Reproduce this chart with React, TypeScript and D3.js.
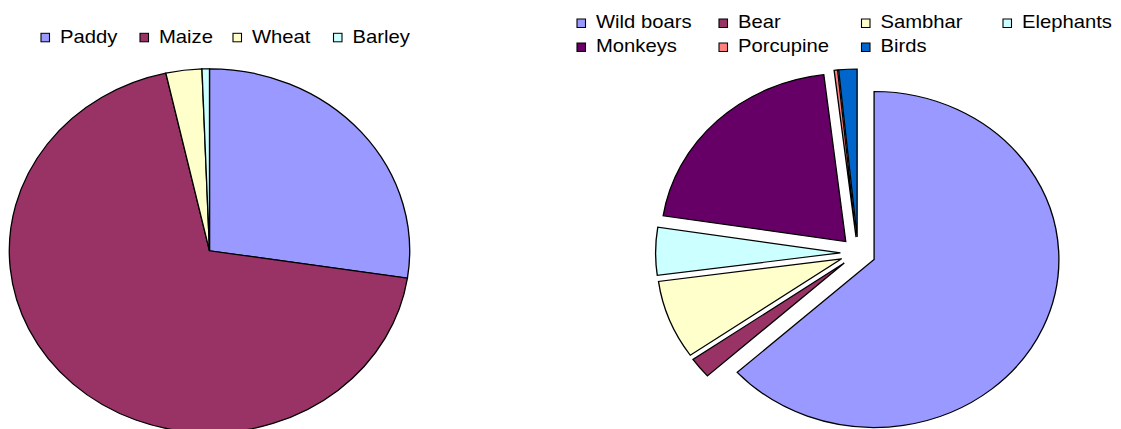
import React from 'react';
import * as d3 from 'd3';

// ---- data ----
const cropLabels = ['Paddy', 'Maize', 'Wheat', 'Barley'];
const cropValues = [27.4, 69.1, 2.9, 0.6];
const cropColors = ['#9999FF', '#993366', '#FFFFCC', '#CCFFFF'];

const animalLabels = ['Wild boars', 'Bear', 'Sambhar', 'Elephants', 'Monkeys', 'Porcupine', 'Birds'];
const animalValues = [63.4, 2.0, 7.6, 4.6, 20.7, 0.3, 1.6];
const animalColors = ['#9999FF', '#993366', '#FFFFCC', '#CCFFFF', '#660066', '#FF8080', '#0066CC'];

// ---- layout ----
const W = 1121;
const H = 429;
const SX = 1.1; // horizontal stretch of the whole drawing
const FONT = '"Liberation Sans", Arial, Helvetica, sans-serif';
const FONT_SIZE = 18.4;

const LEFT = { cx: 209.5 / SX, cy: 250.8, r: 182 };
const RIGHT = { cx: 780, cy: 253, r: 168, explode: 16 };

const leftLegendX = [41.5, 140.5, 233.5, 334];
const leftLegendBaseline = 42.8;
const rightLegendX = [577.5, 719.5, 862, 1003.5];
const rightLegendBaselines = [28.5, 52.5];
const SQ_W = 8.5; // screen px
const SQ_H = 8.5;
const TEXT_DX = 18.5; // screen px from square left

export default function App() {
  const pie = d3.pie<number>().sort(null).value((d) => d);

  const leftArcs = pie(cropValues);
  const leftArc = d3.arc<d3.PieArcDatum<number>>().innerRadius(0).outerRadius(LEFT.r);

  const rightArcs = pie(animalValues);
  const rightArc = d3.arc<d3.PieArcDatum<number>>().innerRadius(0).outerRadius(RIGHT.r);

  const legendItem = (label: string, color: string, sx: number, baseline: number, key: string) => (
    <g key={key}>
      <rect
        x={(sx - 0.5) / SX}
        y={baseline - 1 - SQ_H}
        width={SQ_W / SX}
        height={SQ_H}
        fill={color}
        stroke="#000"
        strokeWidth={1}
      />
      <text
        x={(sx + TEXT_DX) / SX}
        y={baseline}
        fontFamily={FONT}
        fontSize={FONT_SIZE}
        fill="#000"
      >
        {label}
      </text>
    </g>
  );

  return (
    <svg
      width={W}
      height={H}
      viewBox={`0 0 ${W} ${H}`}
      style={{ position: 'absolute', left: 0, top: 0, display: 'block', background: '#fff' }}
    >
      <rect x={0} y={0} width={W} height={H} fill="#fff" />
      <g transform={`scale(${SX},1)`}>
        {/* left pie */}
        <g transform={`translate(${LEFT.cx},${LEFT.cy})`}>
          {leftArcs.map((a, i) => (
            <path
              key={`l${i}`}
              d={leftArc(a) || ''}
              fill={cropColors[i]}
              stroke="#000"
              strokeWidth={1.2}
              strokeLinejoin="miter"
            />
          ))}
        </g>
        {/* right exploded pie */}
        <g transform={`translate(${RIGHT.cx},${RIGHT.cy})`}>
          {rightArcs.map((a, i) => {
            const mid = (a.startAngle + a.endAngle) / 2;
            const dx = RIGHT.explode * Math.sin(mid);
            const dy = -RIGHT.explode * Math.cos(mid);
            return (
              <path
                key={`r${i}`}
                transform={`translate(${dx},${dy})`}
                d={rightArc(a) || ''}
                fill={animalColors[i]}
                stroke="#000"
                strokeWidth={1.2}
                strokeLinejoin="miter"
              />
            );
          })}
        </g>
        {/* legends */}
        {cropLabels.map((lab, i) =>
          legendItem(lab, cropColors[i], leftLegendX[i], leftLegendBaseline, `ll${i}`)
        )}
        {animalLabels.map((lab, i) =>
          legendItem(
            lab,
            animalColors[i],
            rightLegendX[i % 4],
            rightLegendBaselines[Math.floor(i / 4)],
            `rl${i}`
          )
        )}
      </g>
    </svg>
  );
}
